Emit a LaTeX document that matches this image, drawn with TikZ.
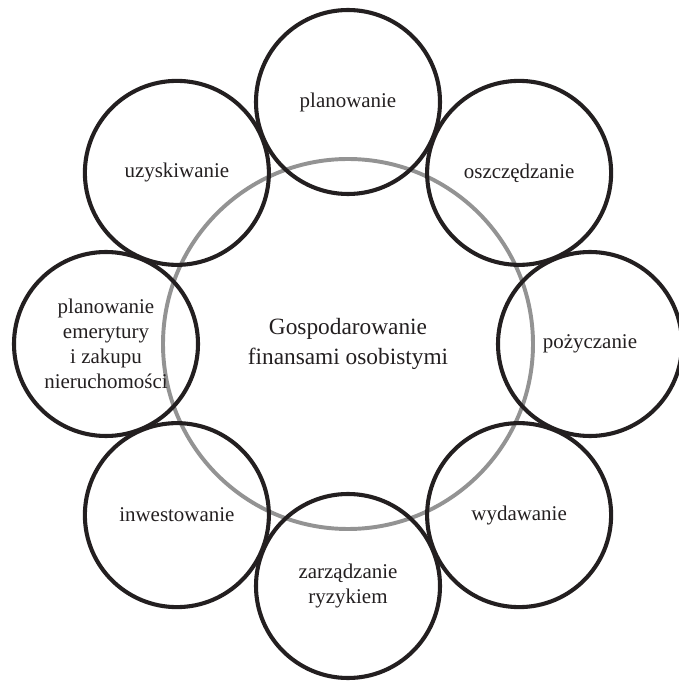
\documentclass[tikz,border=0pt]{standalone}
\usepackage{fontspec}
\setmainfont{Liberation Serif}
\usepackage{tikz}
\definecolor{ringblack}{RGB}{35,31,32}
\definecolor{ringgray}{RGB}{147,147,147}
\tikzstyle{stage} = [circle, draw=ringblack, line width=2.9pt, minimum size=4.6cm, inner sep=0pt, text=ringblack, align=center, font=\fontsize{14.9}{17.8}\selectfont]
\tikzstyle{core} = [circle, draw=ringgray, line width=2.8pt, minimum size=9.25cm, inner sep=0pt, text=ringblack, align=center, font=\fontsize{16.6}{21.3}\selectfont]

\begin{document}
\begin{tikzpicture}
			\useasboundingbox (0,0) rectangle (16.975,17.05);
			% srodek
			\coordinate (K0) at (8.7,8.45);
			% kola
			\coordinate (K1) at (8.7,14.5);
			\coordinate (K2) at (12.978,12.728);
			\coordinate (K3) at (14.75,8.45);
			\coordinate (K4) at (12.978,4.172);
			\coordinate (K5) at (8.7,2.4);
			\coordinate (K6) at (4.422,4.172);
			\coordinate (K7) at (2.65,8.45);
			\coordinate (K8) at (4.422,12.728);
			\begin{scope}[every node/.style={core}]
			\node[name=K0] at (K0) {Gospodarowanie\\finansami osobistymi};
			\end{scope}
			\begin{scope}[every node/.style={stage}]
			\node[name=K1] at (K1) {planowanie};
			\node[name=K2] at (K2) {oszczędzanie};
			\node[name=K3] at (K3) {pożyczanie};
			\node[name=K4] at (K4) {wydawanie};
			\node[name=K5] at (K5) {zarządzanie\\ryzykiem};
			\node[name=K6] at (K6) {inwestowanie};
			\node[name=K7] at (K7) {planowanie\\emerytury\\i zakupu\\nieruchomości};
			\node[name=K8] at (K8) {uzyskiwanie};
			\end{scope}
\end{tikzpicture}
\end{document}
